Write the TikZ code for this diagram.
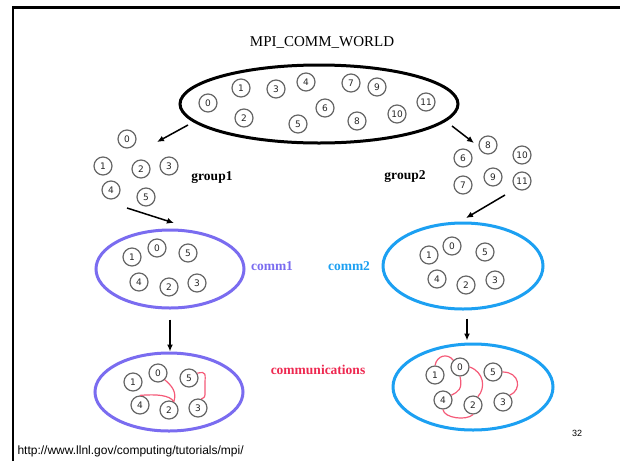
\documentclass[tikz,border=0pt]{standalone}
\usepackage{fontspec}
\setmainfont{Liberation Serif}
\newfontfamily\urlfont{Liberation Sans}
\newfontfamily\numfont{DejaVu Sans}
\usetikzlibrary{shapes.geometric,arrows.meta}
\definecolor{cpurple}{RGB}{122,108,240}
\definecolor{cblue}{RGB}{28,160,242}
\definecolor{cred}{RGB}{238,40,80}
\definecolor{clink}{RGB}{245,90,120}
\tikzset{
  proc/.style={circle,draw=black!60,line width=1.2pt,minimum size=18pt,inner sep=0pt,text=black!85,font=\numfont\fontsize{9}{9}\selectfont},
  bigell/.style={ellipse,draw,line width=3pt,inner sep=0pt},
  commell/.style={ellipse,draw,line width=3pt,inner sep=0pt},
  lbl/.style={font=\bfseries\fontsize{13.5}{15}\selectfont},
  arr/.style={line width=1.5pt,-{Latex[length=7pt,width=6pt]}},
  link/.style={clink,line width=1.2pt}
}
\begin{document}
\begin{tikzpicture}[x=1pt,y=-1pt]
\useasboundingbox (0,0) rectangle (620,461);
\fill[white] (0,0) rectangle (620,461);
\draw[line width=2.5pt] (13,461) -- (13,7.5) -- (620,7.5);

% title
\node[font=\fontsize{15}{17}\selectfont] (title) at (322,42) {MPI\_COMM\_WORLD};

% world ellipse
\node[bigell,minimum width=278pt,minimum height=78pt] (world) at (319,104) {};
\node[proc] (w0) at (208,103) {0};
\node[proc] (w1) at (241,88) {1};
\node[proc] (w2) at (244,118) {2};
\node[proc] (w3) at (276,89) {3};
\node[proc] (w4) at (306,82) {4};
\node[proc] (w5) at (298,124) {5};
\node[proc] (w6) at (325,108) {6};
\node[proc] (w7) at (351,83) {7};
\node[proc] (w8) at (357,121) {8};
\node[proc] (w9) at (377,87) {9};
\node[proc] (w10) at (397,114) {10};
\node[proc] (w11) at (426,102) {11};

% group1
\node[proc] (g0) at (127,139) {0};
\node[proc] (g1) at (103,166) {1};
\node[proc] (g2) at (141,169) {2};
\node[proc] (g3) at (169,166) {3};
\node[proc] (g4) at (111,190) {4};
\node[proc] (g5) at (146,197) {5};
\node[lbl] (group1) at (212,178) {group1};

% group2
\node[proc] (h8) at (488,145) {8};
\node[proc] (h6) at (463,158) {6};
\node[proc] (h10) at (522,155) {10};
\node[proc] (h9) at (493,177) {9};
\node[proc] (h7) at (463,185) {7};
\node[proc] (h11) at (522,181) {11};
\node[lbl] (group2) at (405,177) {group2};

% arrows world -> groups
\coordinate (a1s) at (188,125);
\coordinate (a1e) at (157,142);
\draw[arr] (a1s) -- (a1e);
\coordinate (a2s) at (452,126);
\coordinate (a2e) at (474,143);
\draw[arr] (a2s) -- (a2e);

% comm1
\node[commell,draw=cpurple,minimum width=148pt,minimum height=78pt] (comm1) at (170,269) {};
\node[proc] (p1) at (132,257) {1};
\node[proc] (p0) at (157,248) {0};
\node[proc] (p5) at (188,253) {5};
\node[proc] (p4) at (139,282) {4};
\node[proc] (p2) at (169,287) {2};
\node[proc] (p3) at (197,283) {3};
\node[lbl,text=cpurple] (comm1lbl) at (272,266) {comm1};

% comm2
\node[commell,draw=cblue,minimum width=160pt,minimum height=86pt] (comm2) at (463,266) {};
\node[proc] (q1) at (429,255) {1};
\node[proc] (q0) at (452,246) {0};
\node[proc] (q5) at (485,252) {5};
\node[proc] (q4) at (437,279) {4};
\node[proc] (q2) at (466,285) {2};
\node[proc] (q3) at (495,280) {3};
\node[lbl,text=cblue] (comm2lbl) at (349,266) {comm2};

% arrows groups -> comms
\coordinate (b1s) at (127,208);
\coordinate (b1e) at (174,223);
\draw[arr] (b1s) -- (b1e);
\coordinate (b2s) at (505,195);
\coordinate (b2e) at (466,218);
\draw[arr] (b2s) -- (b2e);

% arrows down
\draw[arr] (comm1.south) ++(0,10) coordinate (d1s) -- ++(0,32) coordinate (d1e);
\draw[arr] (comm2.south) ++(4,8) coordinate (d2s) -- ++(0,22) coordinate (d2e);

% bottom left
\node[commell,draw=cpurple,minimum width=148pt,minimum height=78pt] (bl) at (169,392) {};
\node[proc] (r1) at (133,382) {1};
\node[proc] (r0) at (158,373) {0};
\node[proc] (r5) at (189,378) {5};
\node[proc] (r4) at (140,405) {4};
\node[proc] (r2) at (169,410) {2};
\node[proc] (r3) at (198,408) {3};
\draw[link] (r0.-45) .. controls (172,386) and (177,392) .. (r2.60);
\draw[link] (r4.north) .. controls (156,394) and (170,395) .. (r2.60);
\draw[link] (r5.30) .. controls (207,371) and (205,374) .. (205,385) -- (205,392) .. controls (205,397) .. (r3.70);

\node[lbl,text=cred] (commlbl) at (318,370) {communications};

% bottom right
\node[commell,draw=cblue,minimum width=160pt,minimum height=86pt] (br) at (473,387) {};
\node[proc] (s1) at (435,375) {1};
\node[proc] (s0) at (460,367) {0};
\node[proc] (s5) at (493,372) {5};
\node[proc] (s4) at (443,400) {4};
\node[proc] (s2) at (473,405) {2};
\node[proc] (s3) at (503,402) {3};
\draw[link] (s1.north) .. controls (437,355) and (448,353) .. (s0.north west);
\draw[link] (s0.south) .. controls (463,389) and (458,392) .. (s4.30);
\draw[link] (s0.east) .. controls (484,372) and (486,388) .. (s2.60);
\draw[link] (s4.south) .. controls (444,418) and (466,421) .. (s2.south);
\draw[link] (s5.east) .. controls (520,372) and (522,390) .. (s3.45);

% footer
\node[font=\urlfont\fontsize{9}{9}\selectfont] (pagenum) at (577,433) {32};
\node[font=\urlfont\fontsize{12}{13}\selectfont,anchor=west] (url) at (14,451) {http://www.llnl.gov/computing/tutorials/mpi/};
\end{tikzpicture}
\end{document}
